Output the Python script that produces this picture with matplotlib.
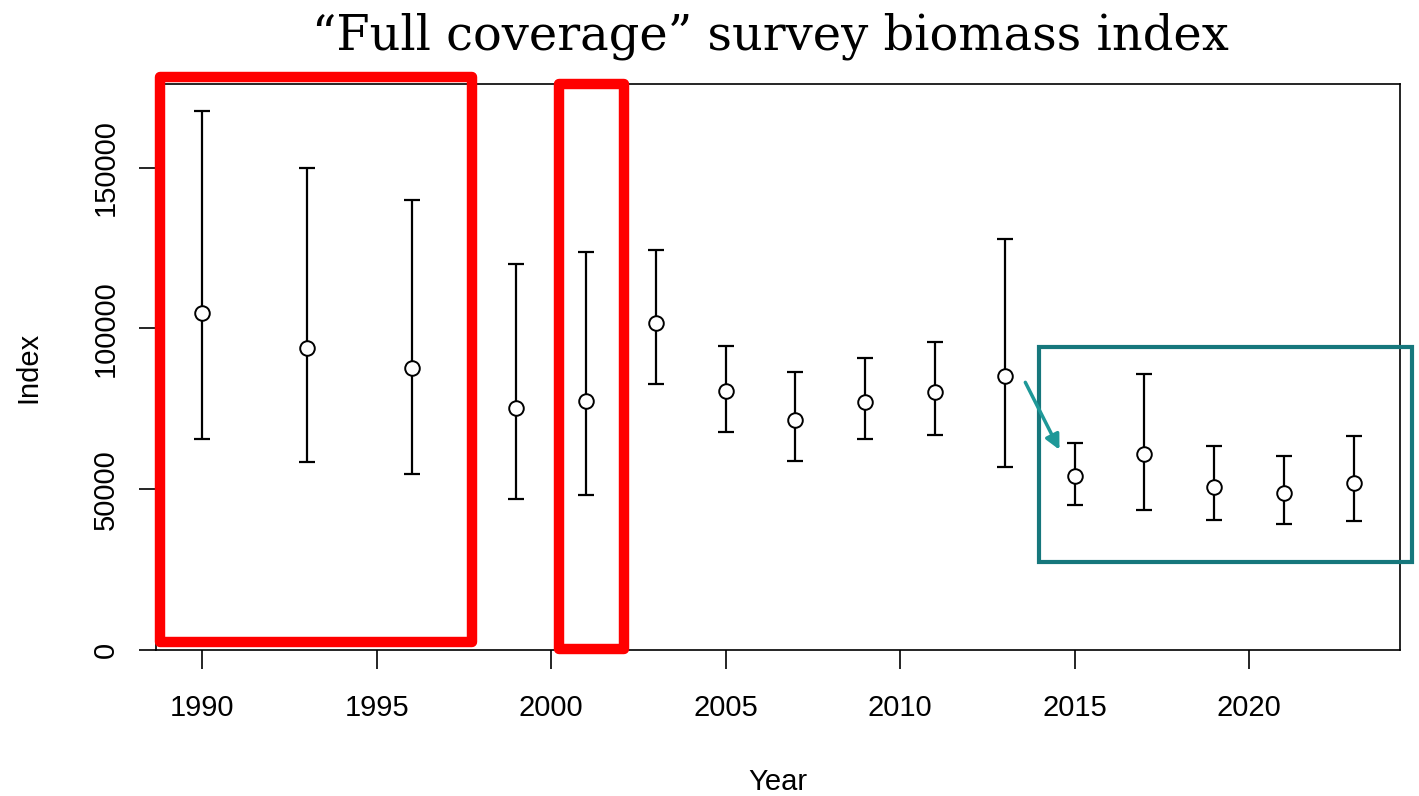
import matplotlib
matplotlib.use("Agg")
import matplotlib.pyplot as plt
from matplotlib.patches import Rectangle, FancyArrowPatch

years = [1990, 1993, 1996, 1999, 2001, 2003, 2005, 2007, 2009, 2011, 2013,
         2015, 2017, 2019, 2021, 2023]
index = [104800, 94000, 87800, 75200, 77500, 101800, 80600, 71600, 77200, 80300,
         85300, 54100, 61000, 50600, 48800, 51900]
upper = [167500, 149900, 140000, 120100, 123900, 124500, 94600, 86500, 90900, 95900,
         127900, 64500, 85700, 63500, 60400, 66400]
lower = [65600, 58600, 54800, 47100, 48300, 82800, 67800, 58800, 65700, 66900,
         56900, 45200, 43600, 40500, 39300, 40200]
xticks = [1990, 1995, 2000, 2005, 2010, 2015, 2020]
yticks = [0, 50000, 100000, 150000]

plt.rcParams['font.family'] = ['Liberation Sans', 'DejaVu Sans']

fig = plt.figure(figsize=(14.19, 7.96), dpi=100)
ax = fig.add_axes([156 / 1419, 1 - 650 / 796, (1400 - 156) / 1419, (650 - 84) / 796])

yerr = [[i - l for i, l in zip(index, lower)], [u - i for i, u in zip(index, upper)]]
ax.errorbar(years, index, yerr=yerr, fmt='none', ecolor='black', elinewidth=1.6,
            capsize=5.5, capthick=1.6)
ax.plot(years, index, 'o', markersize=10.5, markerfacecolor='white',
        markeredgecolor='black', markeredgewidth=1.4)

span = max(years) - min(years)
ax.set_xlim(min(years) - 0.04 * span, max(years) + 0.04 * span)
ax.set_ylim(0, 176000)
ax.set_xticks(xticks)
ax.set_yticks(yticks)
ax.set_yticklabels([str(v) for v in yticks], rotation=90, va='center')
ax.tick_params(axis='x', length=14, width=1.2, labelsize=21, pad=18)
ax.tick_params(axis='y', length=12, width=1.2, labelsize=21, pad=14)
for s in ax.spines.values():
    s.set_linewidth(1.2)
ax.set_xlabel('Year', fontsize=21, labelpad=33)
ax.set_ylabel('Index', fontsize=21, labelpad=36)

fig.text(770 / 1419, 1 - 50 / 796, '\u201cFull coverage\u201d survey biomass index',
         ha='center', va='baseline', fontsize=34.5, family=['DejaVu Serif'])

# highlight boxes drawn over the plot
for (x0, x1, y0, y1) in [(1988.80, 1997.73, 2490, 178160), (2000.24, 2002.09, 311, 176140)]:
    ax.add_patch(Rectangle((x0, y0), x1 - x0, y1 - y0, fill=False, edgecolor='#ff0000',
                           linewidth=7.5, joinstyle='round', clip_on=False, zorder=5))
ax.add_patch(Rectangle((2013.99, 27480), 2024.66 - 2013.99, 94200 - 27480, fill=False,
                       edgecolor='#16777c', linewidth=3, clip_on=False, zorder=5))
ax.add_patch(FancyArrowPatch((2013.55, 84000), (2014.6, 61500), arrowstyle='-|>',
                             mutation_scale=22, color='#1e9898', linewidth=2.5,
                             clip_on=False, zorder=5))

fig.savefig('out.png', dpi=100)
